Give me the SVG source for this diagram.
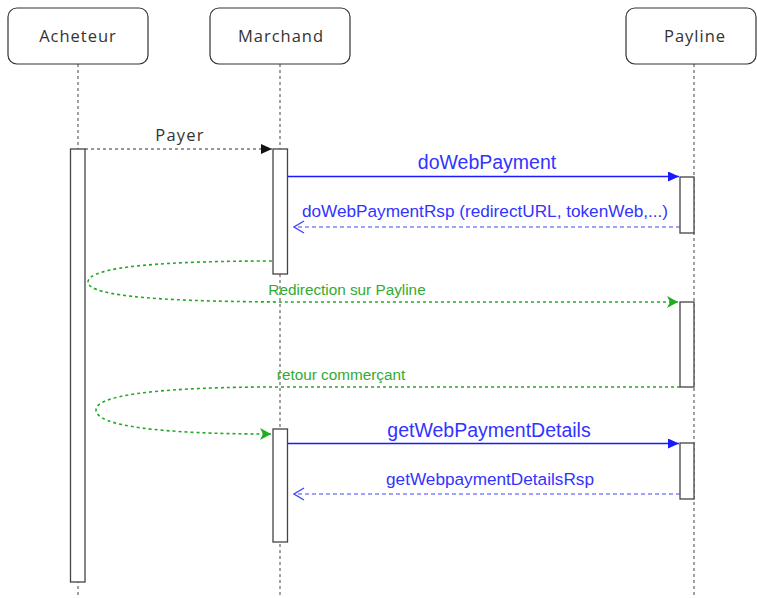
<svg xmlns="http://www.w3.org/2000/svg" width="757" height="598" viewBox="0 0 757 598">
<style>
.box{fill:#fff;stroke:#333;stroke-width:1.2}
.act{fill:#fff;stroke:#444;stroke-width:1.3}
.life{stroke:#444;stroke-width:1;stroke-dasharray:3,3;fill:none}
.name{font-family:"Open Sans","Noto Sans",sans-serif;font-size:16.5px;letter-spacing:1px;fill:#333;text-anchor:middle}
.blue{stroke:#1a1aff;stroke-width:1.4;fill:none}
.bdash{stroke:#4444ff;stroke-width:1.2;fill:none;stroke-dasharray:4,3}
.green{stroke:#22aa22;stroke-width:1.6;fill:none;stroke-dasharray:3,3}
.lbl{font-family:"Liberation Sans",Arial,sans-serif;text-anchor:middle}
.lb16{font-size:19.5px;fill:#3333ff}
.lb14{font-size:17.2px;fill:#3333ff}
.lg{font-size:15.3px;fill:#33aa33}
</style>
<defs>
<marker id="blk" markerWidth="12" markerHeight="10" refX="11" refY="5" orient="auto" markerUnits="userSpaceOnUse"><path d="M0,0 L11,5 L0,10 Z" fill="#111"/></marker>
<marker id="bl" markerWidth="12" markerHeight="10" refX="11" refY="5" orient="auto" markerUnits="userSpaceOnUse"><path d="M0,0 L11,5 L0,10 Z" fill="#1a1aff"/></marker>
<marker id="bo" markerWidth="12" markerHeight="14" refX="11" refY="7" orient="auto" markerUnits="userSpaceOnUse"><path d="M1,1 L11,7 L1,13" fill="none" stroke="#4444ff" stroke-width="1.4"/></marker>
<marker id="gr" markerWidth="12" markerHeight="12" refX="11" refY="6" orient="auto" markerUnits="userSpaceOnUse"><path d="M0,0 L11,6 L0,12 L3,6 Z" fill="#22aa22"/></marker>
</defs>
<g id="lifelines">
<line class="life" x1="78" y1="64" x2="78" y2="598"/>
<line class="life" x1="280" y1="64" x2="280" y2="598"/>
<line class="life" x1="694" y1="64" x2="694" y2="598"/>
</g>
<g id="acheteur">
<rect class="box" x="8" y="8" width="140" height="56" rx="9"/>
<text class="name" x="78" y="42">Acheteur</text>
</g>
<g id="marchand">
<rect class="box" x="210" y="8" width="140" height="56" rx="9"/>
<text class="name" x="281" y="42">Marchand</text>
</g>
<g id="payline">
<rect class="box" x="626" y="8" width="130" height="56" rx="9"/>
<text class="name" x="695" y="42">Payline</text>
</g>
<g id="activations">
<rect class="act" x="70.5" y="149" width="14.5" height="433"/>
<rect class="act" x="273" y="149" width="14.5" height="125"/>
<rect class="act" x="680" y="177" width="14" height="56"/>
<rect class="act" x="680" y="302" width="14" height="85"/>
<rect class="act" x="273" y="429" width="14.5" height="113"/>
<rect class="act" x="680" y="443" width="14" height="56"/>
</g>
<g id="connectors">
<line x1="85" y1="149" x2="272" y2="149" stroke="#333" stroke-width="1.2" stroke-dasharray="3,3" marker-end="url(#blk)"/>
<text x="180" y="141" font-size="16.5" letter-spacing="1.2" fill="#333" text-anchor="middle" font-family="'Open Sans',sans-serif">Payer</text>
<line class="blue" x1="288" y1="176.5" x2="679" y2="176.5" marker-end="url(#bl)"/>
<text class="lbl lb16" x="487" y="169">doWebPayment</text>
<line class="bdash" x1="680" y1="227" x2="294" y2="227" marker-end="url(#bo)"/>
<text class="lbl lb14" x="485" y="217">doWebPaymentRsp (redirectURL, tokenWeb,...)</text>
<path class="green" d="M272,261 C170,261 88,266 88,282 C88,297 170,302 300,302 L678,302" marker-end="url(#gr)"/>
<text class="lbl lg" x="347" y="295">Redirection sur Payline</text>
<path class="green" d="M680,387 L260,387 C150,388 96,396 96,410 C96,426 160,434 271,434" marker-end="url(#gr)"/>
<text class="lbl lg" x="341" y="380">retour commerçant</text>
<line class="blue" x1="288" y1="443.5" x2="679" y2="443.5" marker-end="url(#bl)"/>
<text class="lbl lb16" x="489" y="437">getWebPaymentDetails</text>
<line class="bdash" x1="680" y1="494" x2="294" y2="494" marker-end="url(#bo)"/>
<text class="lbl lb14" x="490" y="485">getWebpaymentDetailsRsp</text>
</g>
</svg>
